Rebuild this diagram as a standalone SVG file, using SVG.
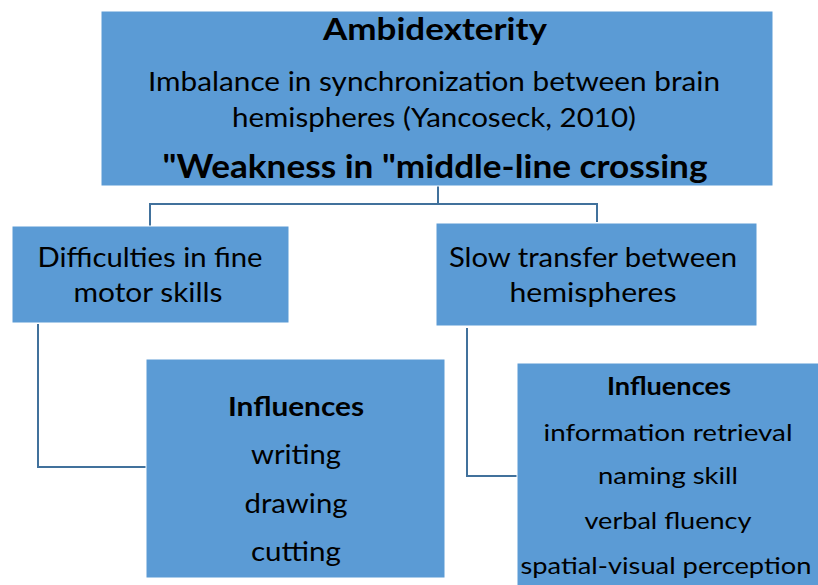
<svg xmlns="http://www.w3.org/2000/svg" width="818" height="585" viewBox="0 0 818 585">
<style>
.box{fill:#5B9BD5;stroke:#FFFFFF;stroke-width:1}
.t{font-family:Lato,"Open Sans","Liberation Sans",sans-serif;fill:#000;text-anchor:middle}
.b{font-weight:bold}
.c{fill:none;stroke:#41719C;stroke-width:2}
</style>
<rect width="818" height="585" fill="#FFFFFF"/>
<g id="connectors">
<polyline class="c" points="438,186 438,204 150,204 150,226"/>
<polyline class="c" points="438,204 597,204 597,222"/>
<polyline class="c" points="38,324 38,467 146,467"/>
<polyline class="c" points="467,328 467,476 517,476"/>
</g>
<g id="top">
<rect class="box" x="101" y="11" width="672" height="175"/>
<text class="t b" x="435" y="40" font-size="30" textLength="224" lengthAdjust="spacingAndGlyphs">Ambidexterity</text>
<text class="t" x="434" y="91" font-size="27.5" textLength="572" lengthAdjust="spacingAndGlyphs">Imbalance in synchronization between brain</text>
<text class="t" x="434" y="127" font-size="27.5" textLength="404" lengthAdjust="spacingAndGlyphs">hemispheres (Yancoseck, 2010)</text>
<text class="t b" x="435" y="178" font-size="32" textLength="545" lengthAdjust="spacingAndGlyphs">"Weakness in "middle-line crossing</text>
</g>
<g id="fine-motor">
<rect class="box" x="12" y="226" width="277" height="97"/>
<text class="t" x="150" y="267" font-size="26" textLength="225" lengthAdjust="spacingAndGlyphs">Difficulties in fine</text>
<text class="t" x="148" y="302" font-size="26" textLength="149" lengthAdjust="spacingAndGlyphs">motor skills</text>
</g>
<g id="slow-transfer">
<rect class="box" x="436" y="223" width="321" height="103"/>
<text class="t" x="593" y="267" font-size="26" textLength="288" lengthAdjust="spacingAndGlyphs">Slow transfer between</text>
<text class="t" x="593" y="302" font-size="26" textLength="167" lengthAdjust="spacingAndGlyphs">hemispheres</text>
</g>
<g id="influences-left">
<rect class="box" x="146" y="359" width="299" height="219"/>
<text class="t b" x="296" y="416" font-size="26" textLength="136" lengthAdjust="spacingAndGlyphs">Influences</text>
<text class="t" x="296" y="464" font-size="26" textLength="90" lengthAdjust="spacingAndGlyphs">writing</text>
<text class="t" x="296" y="513" font-size="26" textLength="103" lengthAdjust="spacingAndGlyphs">drawing</text>
<text class="t" x="296" y="561" font-size="26" textLength="90" lengthAdjust="spacingAndGlyphs">cutting</text>
</g>
<g id="influences-right">
<rect class="box" x="517" y="363" width="302" height="223"/>
<text class="t b" x="669" y="395" font-size="24" textLength="124" lengthAdjust="spacingAndGlyphs">Influences</text>
<text class="t" x="668" y="441" font-size="24" textLength="249" lengthAdjust="spacingAndGlyphs">information retrieval</text>
<text class="t" x="668" y="484" font-size="24" textLength="140" lengthAdjust="spacingAndGlyphs">naming skill</text>
<text class="t" x="668" y="529" font-size="24" textLength="167" lengthAdjust="spacingAndGlyphs">verbal fluency</text>
<text class="t" x="666" y="574" font-size="24" textLength="291" lengthAdjust="spacingAndGlyphs">spatial-visual perception</text>
</g>
</svg>
